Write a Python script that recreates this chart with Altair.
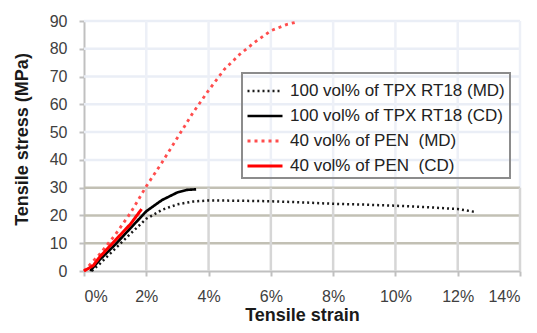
import altair as alt
import pandas as pd

# ---- data ----
series_names = [
    "100 vol% of TPX RT18 (MD)",
    "100 vol% of TPX RT18 (CD)",
    "40 vol% of PEN\u00a0 (MD)",
    "40 vol% of PEN\u00a0 (CD)",
]
tpx_md_x = [0.25, 0.5, 1, 1.5, 2, 2.5, 3, 3.5, 4, 5, 6, 7, 8, 9, 10, 11, 12, 12.6]
tpx_md_y = [0, 2.5, 8, 13.5, 18.8, 22, 24, 25, 25.4, 25.3, 25.1, 24.7, 24.2, 23.9, 23.5, 23, 22.3, 21.2]
tpx_cd_x = [0.2, 0.5, 1, 1.5, 2, 2.5, 3, 3.3, 3.6]
tpx_cd_y = [0, 4, 9.5, 15.5, 21.5, 25.5, 28.3, 29.2, 29.4]
pen_md_x = [0, 0.5, 1, 1.5, 2, 2.5, 3, 3.5, 4, 4.5, 5, 5.5, 6, 6.5, 6.85]
pen_md_y = [0, 6, 13, 21, 30.5, 39, 48, 57, 65, 72.5, 78, 82.5, 86.5, 88.7, 89.7]
pen_cd_x = [0, 0.3, 0.5, 1, 1.5, 1.85]
pen_cd_y = [0, 2, 5, 11, 17, 22.3]

x_ticks = [0, 2, 4, 6, 8, 10, 12, 14]
y_ticks = [0, 10, 20, 30, 40, 50, 60, 70, 80, 90]

colors = ["#1a1a1a", "#000000", "#ff4d4d", "#ff0000"]
dashes = [[2, 3], [1, 0], [3, 4], [1, 0]]
widths = [2.5, 3, 2.5, 3]

rows = []
for name, xs_, ys_ in zip(series_names,
                          [tpx_md_x, tpx_cd_x, pen_md_x, pen_cd_x],
                          [tpx_md_y, tpx_cd_y, pen_md_y, pen_cd_y]):
    for i, (a, b) in enumerate(zip(xs_, ys_)):
        rows.append({"series": name, "strain": a, "stress": b, "order": i})
df = pd.DataFrame(rows)

xs = alt.Scale(domain=[0, 14], nice=False)
ys = alt.Scale(domain=[0, 90], nice=False)
x_axis = alt.Axis(values=x_ticks, labelExpr="datum.value + '%'", title="Tensile strain",
                  labelOverlap=False, titleY=49, titleBaseline="alphabetic")
y_axis = alt.Axis(values=y_ticks, title="Tensile stress (MPa)", labelOverlap=False,
                  titleX=-62, titleY=118, titleBaseline="middle", titleAngle=270)

# gridlines
hgrid = pd.DataFrame({"v": y_ticks[1:], "lo": [v <= 30 for v in y_ticks[1:]]})
hgrid_light = alt.Chart(hgrid[~hgrid["lo"]]).mark_rule(color="#eaeef6", strokeWidth=2.5).encode(
    y=alt.Y("v:Q", scale=ys, axis=y_axis), x=alt.value(0), x2=alt.value(436))
hgrid_dark = alt.Chart(hgrid[hgrid["lo"]]).mark_rule(color="#c2c0b4", strokeWidth=2.5).encode(
    y=alt.Y("v:Q", scale=ys, axis=y_axis), x=alt.value(0), x2=alt.value(436))
vgrid = pd.DataFrame({"v": x_ticks[1:], "y0": [0] * 7, "y1": [30] * 7, "y2": [90] * 7})
vgrid_high = alt.Chart(vgrid).mark_rule(color="#edf0f7", strokeWidth=2.5).encode(
    x=alt.X("v:Q", scale=xs, axis=x_axis), y=alt.Y("y1:Q", scale=ys, axis=y_axis), y2="y2:Q")
vgrid_low = alt.Chart(vgrid).mark_rule(color="#d6d6d6", strokeWidth=2.5).encode(
    x=alt.X("v:Q", scale=xs, axis=x_axis), y=alt.Y("y0:Q", scale=ys, axis=y_axis), y2="y1:Q")

lines = alt.Chart(df).mark_line(strokeCap="butt").encode(
    x=alt.X("strain:Q", scale=xs, axis=x_axis),
    y=alt.Y("stress:Q", scale=ys, axis=y_axis),
    color=alt.Color("series:N", scale=alt.Scale(domain=series_names, range=colors),
                    legend=alt.Legend(title=None, orient="none", legendX=158, legendY=52,
                                      symbolType="M-1.4,0H1.4", symbolSize=625,
                                      symbolStrokeWidth=3, symbolOffset=5,
                                      labelOffset=11,
                                      labelFontSize=17, labelFont="Liberation Sans",
                                      labelColor="#222222", labelLimit=400,
                                      rowPadding=3, padding=4, offset=0,
                                      strokeColor="#8c8c8c")),
    strokeDash=alt.StrokeDash("series:N", scale=alt.Scale(domain=series_names, range=dashes),
                              legend=None),
    strokeWidth=alt.StrokeWidth("series:N", scale=alt.Scale(domain=series_names, range=widths),
                                legend=None),
    order="order:Q",
)

chart = alt.layer(hgrid_light, vgrid_high, hgrid_dark, vgrid_low, lines).properties(
    width=436, height=250,
    padding={"left": 76, "top": 13, "right": 5, "bottom": 54},
    autosize=alt.AutoSizeParams(type="none"),
).configure_view(stroke=None).configure_axis(
    grid=False,
    domainColor="#c0c0c0", domainWidth=2,
    tickColor="#c0c0c0", tickSize=5, tickWidth=2,
    labelFont="Liberation Sans", labelFontSize=16, labelColor="#404040",
    labelPadding=12,
    titleFont="Liberation Sans", titleFontSize=18, titleFontWeight="bold", titleColor="#1a1a1a",
).configure_legend(strokeWidth=2)

chart.save("out.html", embed_options={"renderer": "svg", "actions": False})
